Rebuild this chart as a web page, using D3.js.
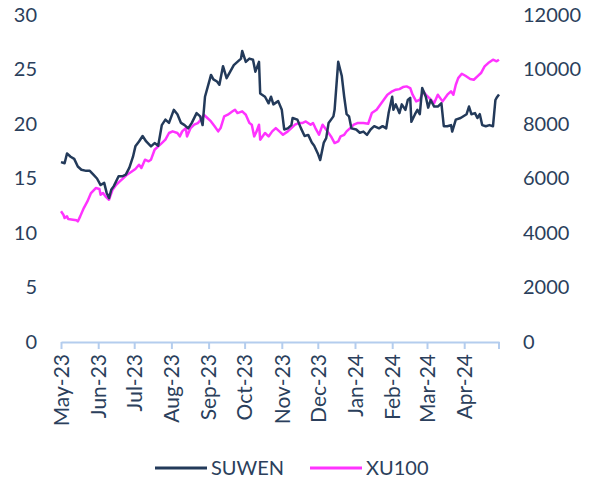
<!DOCTYPE html>
<html>
<head>
<meta charset="utf-8">
<script src="https://cdn.jsdelivr.net/npm/d3@7"></script>
<style>
  body { margin: 0; background: #fff; }
  svg text { font-family: Lato, "Open Sans", sans-serif; fill: #2b3f5c; }
</style>
</head>
<body>
<div id="chart"></div>
<script>
var parse = d3.timeParse('%Y-%m-%d');

// SUWEN (left axis)
var suwen_dates = ['2023-05-01','2023-05-04','2023-05-06','2023-05-09','2023-05-12','2023-05-15','2023-05-18','2023-05-22','2023-05-25','2023-05-28','2023-05-31',
  '2023-06-03','2023-06-06','2023-06-08','2023-06-10','2023-06-12','2023-06-14','2023-06-18','2023-06-21','2023-06-24','2023-06-27','2023-06-30',
  '2023-07-02','2023-07-05','2023-07-08','2023-07-11','2023-07-15','2023-07-18','2023-07-21','2023-07-24','2023-07-27','2023-07-30',
  '2023-08-03','2023-08-06','2023-08-09','2023-08-12','2023-08-15','2023-08-18','2023-08-22','2023-08-25','2023-08-27','2023-08-29',
  '2023-09-02','2023-09-03','2023-09-05','2023-09-08','2023-09-10','2023-09-13','2023-09-16','2023-09-19','2023-09-22','2023-09-25','2023-09-28','2023-09-29',
  '2023-10-02','2023-10-05','2023-10-08','2023-10-10','2023-10-13','2023-10-14','2023-10-18','2023-10-21','2023-10-23','2023-10-25','2023-10-29',
  '2023-11-01','2023-11-03','2023-11-06','2023-11-09','2023-11-10','2023-11-14','2023-11-17','2023-11-20','2023-11-23','2023-11-26','2023-11-28',
  '2023-12-01','2023-12-03','2023-12-06','2023-12-08','2023-12-10','2023-12-14','2023-12-15','2023-12-18','2023-12-21','2023-12-23','2023-12-25','2023-12-27','2023-12-29',
  '2024-01-02','2024-01-05','2024-01-08','2024-01-11','2024-01-14','2024-01-17','2024-01-21','2024-01-24','2024-01-27','2024-01-29',
  '2024-02-01','2024-02-02','2024-02-04','2024-02-07','2024-02-09','2024-02-12','2024-02-14','2024-02-16','2024-02-17','2024-02-20','2024-02-22','2024-02-24','2024-02-26','2024-02-29',
  '2024-03-02','2024-03-04','2024-03-07','2024-03-10','2024-03-13','2024-03-15','2024-03-18','2024-03-21','2024-03-22','2024-03-25','2024-03-29',
  '2024-04-03','2024-04-05','2024-04-07','2024-04-10','2024-04-12','2024-04-14','2024-04-16','2024-04-19','2024-04-22','2024-04-25','2024-04-27','2024-04-28','2024-04-30'];
var suwen_values = [16.5,16.4,17.3,17.0,16.8,16.1,15.8,15.7,15.7,15.35,15.0,
  14.4,14.6,13.7,13.2,14.0,14.3,15.2,15.2,15.35,16.0,17.0,
  17.95,18.4,18.9,18.4,17.95,18.25,18.0,19.9,20.4,20.1,
  21.3,20.9,20.1,19.9,19.6,20.1,21.0,20.7,19.9,22.5,
  24.1,24.5,24.1,23.9,23.6,25.3,24.2,24.8,25.4,25.7,26.0,26.7,
  25.7,26.0,25.9,24.8,25.7,22.8,22.5,21.9,22.5,21.8,22.1,
  21.3,19.5,19.6,19.9,20.55,20.4,19.6,18.9,19.0,18.3,18.0,
  17.3,16.7,18.3,18.7,20.1,20.7,21.3,25.7,24.4,22.5,20.9,20.7,19.6,
  19.5,19.2,19.3,19.0,19.5,19.8,19.6,19.8,19.6,21.0,
  22.5,21.3,21.8,21.0,21.8,21.3,22.2,22.4,20.2,20.9,21.3,20.9,23.3,22.5,
  21.5,22.2,21.6,21.6,21.9,19.8,19.8,19.9,19.3,20.4,20.55,
  20.9,21.6,20.9,21.0,20.55,20.9,19.9,19.8,19.9,19.8,22.2,22.4,22.7];

// XU100 (right axis)
var xu_dates = ['2023-05-01','2023-05-03','2023-05-04','2023-05-06','2023-05-07','2023-05-11','2023-05-14','2023-05-15','2023-05-17','2023-05-20','2023-05-23','2023-05-26','2023-05-30',
  '2023-06-02','2023-06-03','2023-06-05','2023-06-07','2023-06-10','2023-06-11','2023-06-13','2023-06-16','2023-06-19','2023-06-22','2023-06-25','2023-06-29',
  '2023-07-02','2023-07-05','2023-07-07','2023-07-10','2023-07-13','2023-07-15','2023-07-18','2023-07-21','2023-07-24','2023-07-27','2023-07-30',
  '2023-08-02','2023-08-06','2023-08-08','2023-08-10','2023-08-13','2023-08-14','2023-08-17','2023-08-20','2023-08-23','2023-08-26','2023-08-28','2023-08-31',
  '2023-09-03','2023-09-06','2023-09-09','2023-09-11','2023-09-14','2023-09-17','2023-09-21','2023-09-23','2023-09-25','2023-09-29',
  '2023-10-02','2023-10-05','2023-10-07','2023-10-09','2023-10-11','2023-10-13','2023-10-14','2023-10-18','2023-10-21','2023-10-24','2023-10-27','2023-10-30',
  '2023-11-02','2023-11-06','2023-11-09','2023-11-12','2023-11-15','2023-11-18','2023-11-21','2023-11-25','2023-11-27','2023-11-29',
  '2023-12-02','2023-12-05','2023-12-07','2023-12-09','2023-12-12','2023-12-15','2023-12-18','2023-12-20','2023-12-23','2023-12-25','2023-12-28','2023-12-31',
  '2024-01-03','2024-01-08','2024-01-12','2024-01-15','2024-01-19','2024-01-22','2024-01-25','2024-01-28',
  '2024-02-01','2024-02-04','2024-02-07','2024-02-10','2024-02-13','2024-02-16','2024-02-18','2024-02-21','2024-02-24','2024-02-27','2024-02-29',
  '2024-03-03','2024-03-07','2024-03-10','2024-03-12','2024-03-14','2024-03-18','2024-03-21','2024-03-23','2024-03-25','2024-03-27','2024-03-30',
  '2024-04-02','2024-04-06','2024-04-09','2024-04-12','2024-04-15','2024-04-18','2024-04-21','2024-04-25','2024-04-28','2024-04-30'];
var xu_values = [4795,4670,4550,4610,4510,4490,4465,4425,4610,4915,5160,5465,5650,
  5615,5405,5465,5345,5220,5345,5590,5770,5895,6015,6140,6260,
  6350,6505,6385,6690,6630,6690,7055,7180,7300,7425,7670,
  7730,7670,7545,7730,7850,7545,7850,7975,8035,8180,8340,8220,
  8095,7915,7730,7850,8280,8340,8465,8525,8400,8465,
  8340,8035,7975,7545,7730,7975,7425,7670,7545,7730,7850,7730,
  7605,7730,7850,7975,8035,8035,8095,7975,8035,7850,
  7605,7975,7850,7730,7545,7300,7360,7545,7605,7730,7850,7975,
  8035,8035,8010,8400,8525,8710,8890,9075,
  9200,9260,9280,9355,9380,9320,9075,8830,8890,9200,9075,
  8950,8770,9075,8950,8830,9075,9200,9075,9440,9685,9845,
  9770,9650,9625,9750,9870,10115,10235,10360,10300,10360];

var month_ticks = ['2023-05-01','2023-06-01','2023-07-01','2023-08-01','2023-09-01','2023-10-01','2023-11-01','2023-12-01','2024-01-01','2024-02-01','2024-03-01','2024-04-01'];
var left_ticks = [0, 5, 10, 15, 20, 25, 30];
var right_ticks = [0, 2000, 4000, 6000, 8000, 10000, 12000];
var series_names = ['SUWEN', 'XU100'];
var colors = ['#233a5a', '#ff33ff'];

var chart_width = 597;
var chart_height = 483;

var svg = d3.select('#chart')
    .append('svg')
    .attr('width', chart_width)
    .attr('height', chart_height);

var suwen = suwen_dates.map(function(d, i){ return {date: parse(d), value: suwen_values[i]}; });
var xu = xu_dates.map(function(d, i){ return {date: parse(d), value: xu_values[i]}; });

// Scales
var x_scale = d3.scaleTime()
    .domain([parse('2023-05-01'), parse('2024-04-30')])
    .range([61, 499]);
var y_left = d3.scaleLinear().domain([0, 30]).range([342, 15]);
var y_right = d3.scaleLinear().domain([0, 12000]).range([342, 15]);

// Left axis labels
var y_axis_l = d3.axisLeft(y_left).tickValues(left_ticks).tickSize(0).tickPadding(0);
svg.append('g')
    .attr('transform', 'translate(37,0)')
    .call(y_axis_l)
    .call(function(g){ g.select('.domain').remove(); })
    .selectAll('text')
    .style('font-size', '20px');

var y_axis_r = d3.axisRight(y_right).tickValues(right_ticks)
    .tickFormat(d3.format('d'))
    .tickSize(0).tickPadding(0);
svg.append('g')
    .attr('transform', 'translate(523,0)')
    .call(y_axis_r)
    .call(function(g){ g.select('.domain').remove(); })
    .selectAll('text')
    .style('font-size', '20px');

// X axis
var x_axis = d3.axisBottom(x_scale)
    .tickValues(month_ticks.map(parse))
    .tickFormat(d3.timeFormat('%b-%y'))
    .tickSizeInner(7)
    .tickSizeOuter(0)
    .tickPadding(6);
var xg = svg.append('g')
    .attr('transform', 'translate(0,342)')
    .call(x_axis);
xg.select('.domain').attr('stroke', '#b4cdee').attr('stroke-width', 2);
xg.selectAll('.tick line').attr('stroke', '#b4cdee').attr('stroke-width', 2);
xg.append('line').attr('x1', 499).attr('x2', 499).attr('y1', 0).attr('y2', 7)
    .attr('stroke', '#b4cdee').attr('stroke-width', 2);
xg.selectAll('text')
    .style('font-size', '21px')
    .attr('text-anchor', 'end')
    .attr('transform', 'rotate(-90)')
    .attr('x', -12)
    .attr('y', 0)
    .attr('dy', '0.35em');

// Lines
var line_l = d3.line()
    .x(function(d){ return x_scale(d.date); })
    .y(function(d){ return y_left(d.value); });
var line_r = d3.line()
    .x(function(d){ return x_scale(d.date); })
    .y(function(d){ return y_right(d.value); });

svg.append('path')
    .datum(xu)
    .attr('fill', 'none')
    .attr('stroke', colors[1])
    .attr('stroke-width', 2.5)
    .attr('stroke-linejoin', 'round')
    .attr('d', line_r);

svg.append('path')
    .datum(suwen)
    .attr('fill', 'none')
    .attr('stroke', colors[0])
    .attr('stroke-width', 2.5)
    .attr('stroke-linejoin', 'round')
    .attr('d', line_l);

// Legend
var legend_x = [155, 310];
var legend = svg.append('g');
series_names.forEach(function(name, i){
    legend.append('line')
        .attr('x1', legend_x[i]).attr('x2', legend_x[i] + 52)
        .attr('y1', 468).attr('y2', 468)
        .attr('stroke', colors[i]).attr('stroke-width', 3);
    legend.append('text')
        .attr('x', legend_x[i] + 56).attr('y', 468)
        .attr('dy', '0.35em')
        .style('font-size', '20px')
        .text(name);
});
</script>
</body>
</html>
